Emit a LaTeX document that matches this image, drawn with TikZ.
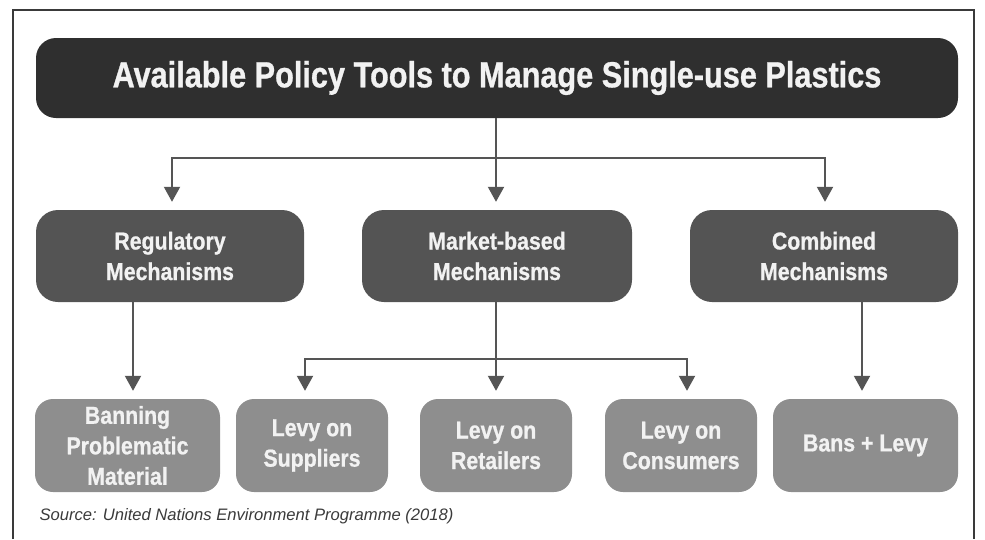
\documentclass[tikz,border=0pt]{standalone}
\usepackage{fontspec}
\setmainfont{Liberation Sans}
\newfontfamily\titlefont{Liberation Sans}[FakeStretch=0.845, FakeBold=0.8]
\newfontfamily\boxfont{Liberation Sans}[FakeStretch=0.87, FakeBold=0.8]
\usetikzlibrary{arrows.meta}
\definecolor{titlegray}{HTML}{2F2F2F}
\definecolor{midgray}{HTML}{545454}
\definecolor{lowgray}{HTML}{8E8E8E}
\definecolor{linegray}{HTML}{555555}
\definecolor{txtgray}{HTML}{F2F2F2}
\definecolor{srcgray}{HTML}{3A3A3A}
\tikzset{
  titlebox/.style={rectangle, rounded corners=20pt, fill=titlegray, text=txtgray,
    minimum width=922pt, minimum height=80pt, inner sep=0pt,
    font=\titlefont\bfseries\fontsize{36.3}{40}\selectfont},
  midbox/.style={rectangle, rounded corners=22pt, fill=midgray, text=txtgray,
    minimum height=92pt, inner sep=0pt, align=center,
    font=\boxfont\bfseries\fontsize{24.5}{30.5}\selectfont},
  lowbox/.style={rectangle, rounded corners=18pt, fill=lowgray, text=txtgray,
    minimum height=93pt, inner sep=0pt, align=center,
    font=\boxfont\bfseries\fontsize{24.5}{30.5}\selectfont},
  ln/.style={draw=linegray, line width=2pt},
  arr/.style={ln, -{Triangle[width=16pt,length=15pt]}, shorten >=8pt},
}
\begin{document}
\begin{tikzpicture}[x=1pt, y=-1pt]
\useasboundingbox (0,0) rectangle (985,539);
% frame
\draw[draw=srcgray, line width=1.2pt] (13,539) -- (13,10) -- (974,10) -- (974,539);

\node[titlebox] (title) at (497,78) {Available Policy Tools to Manage Single-use Plastics};

\node[midbox, minimum width=268pt] (reg) at (170,256) {Regulatory\\Mechanisms};
\node[midbox, minimum width=270pt] (mkt) at (497,256) {Market-based\\Mechanisms};
\node[midbox, minimum width=268pt] (comb) at (824,256) {Combined\\Mechanisms};

\node[lowbox, minimum width=185pt] (ban) at (127.5,445.5) {Banning\\Problematic\\Material};
\node[lowbox, minimum width=152pt] (sup) at (312,445.5) {Levy on\\Suppliers};
\node[lowbox, minimum width=152pt] (ret) at (496,445.5) {Levy on\\Retailers};
\node[lowbox, minimum width=152pt] (con) at (681,445.5) {Levy on\\Consumers};
\node[lowbox, minimum width=185pt] (bl) at (865.5,445.5) {Bans + Levy};

\node[anchor=base west, text=srcgray, font=\itshape\fontsize{16.6}{19}\selectfont] (src) at (36,520)
  {Source: United Nations Environment Programme (2018)};

% top level connectors
\coordinate (j1) at (496,158);
\draw[ln] (title.south -| j1) -- (j1);
\draw[arr] (j1) -| ([xshift=2pt]reg.north);
\draw[arr] (j1) -- (mkt.north -| j1);
\draw[arr] (j1) -| ([xshift=1pt]comb.north);

% regulatory
\draw[arr] ([xshift=-37pt]reg.south) -- ([xshift=5.5pt]ban.north);

% market-based
\coordinate (j2) at (496,359);
\draw[ln] (mkt.south -| j2) -- (j2);
\draw[arr] (j2) -| ([xshift=-7pt]sup.north);
\draw[arr] (j2) -- (ret.north);
\draw[arr] (j2) -| ([xshift=6pt]con.north);

% combined
\draw[arr] ([xshift=38pt]comb.south) -- ([xshift=-3.5pt]bl.north);
\end{tikzpicture}
\end{document}
